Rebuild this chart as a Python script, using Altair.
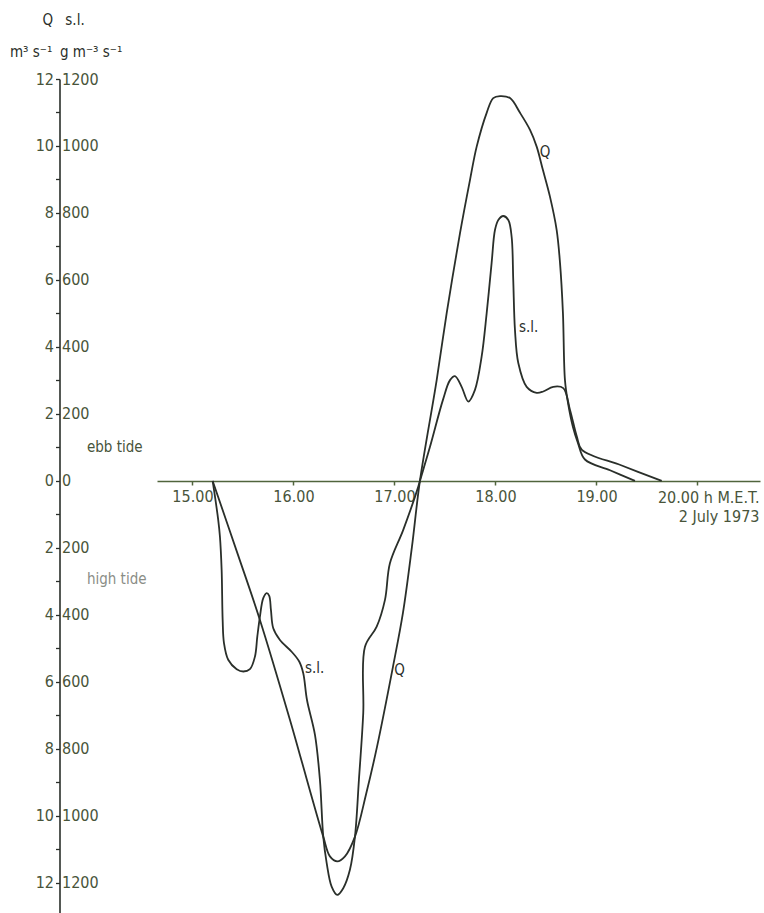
import altair as alt
import pandas as pd

# Discharge Q (m3 s-1) through the tidal inlet, 2 July 1973.
# Negative values: flood (high tide) flow, positive values: ebb flow.
q_time = [15.20, 15.45, 15.668, 15.965, 16.064, 16.295, 16.361, 16.434, 16.510,
          16.609, 16.720, 16.827, 16.985, 17.084, 17.173, 17.252, 17.418, 17.517,
          17.649, 17.748, 17.814, 17.913, 17.978, 18.045, 18.144, 18.243, 18.342,
          18.408, 18.470, 18.540, 18.606, 18.639, 18.668, 18.688, 18.718, 18.767,
          18.817, 18.886, 19.134, 19.381]
q_value = [0.0, -2.2, -4.15, -7.13, -8.18, -10.62, -11.21, -11.36, -11.21,
           -10.62, -9.34, -7.94, -5.55, -3.94, -1.97, 0.0, 3.01, 5.01,
           7.40, 8.99, 9.98, 10.99, 11.43, 11.49, 11.43, 10.99, 10.48,
           9.98, 9.28, 8.48, 7.49, 6.51, 5.01, 3.01, 2.33, 1.61,
           1.13, 0.64, 0.32, 0.0]

# Suspended load s.l. (g m-3 s-1)
sl_time = [15.20, 15.255, 15.272, 15.289, 15.299, 15.312, 15.354, 15.438, 15.503,
           15.569, 15.619, 15.642, 15.668, 15.701, 15.735, 15.760, 15.777, 15.800,
           15.866, 15.982, 16.057, 16.097, 16.134, 16.213, 16.262, 16.295, 16.329,
           16.378, 16.434, 16.493, 16.559, 16.609, 16.648, 16.691, 16.708, 16.824,
           16.906, 16.955, 17.087, 17.236, 17.252, 17.351, 17.480, 17.550, 17.599,
           17.665, 17.731, 17.797, 17.863, 17.913, 17.962, 17.995, 18.028, 18.077,
           18.127, 18.160, 18.176, 18.193, 18.226, 18.309, 18.408, 18.473, 18.572,
           18.671, 18.738, 18.807, 18.856, 19.250, 19.646]
sl_value = [0, -116, -166, -266, -415, -484, -534, -562, -569,
            -562, -524, -465, -405, -350, -335, -343, -385, -440,
            -475, -510, -539, -574, -654, -758, -893, -1062, -1141,
            -1211, -1236, -1216, -1161, -1062, -893, -693, -495, -435,
            -355, -246, -146, -17, 0, 101, 242, 301, 313,
            281, 237, 272, 371, 501, 651, 749, 779, 791,
            779, 729, 600, 451, 352, 281, 263, 267, 281,
            277, 212, 131, 93, 46, 0]

x_ticks = [15, 16, 17, 18, 19, 20]
q_ticks = list(range(-12, 13))
sl_ticks = list(range(-1200, 1201, 200))

T_DOMAIN = [14.649, 20.619]
Q_DOMAIN = [-12.9, 12.0]
SL_DOMAIN = [-1290, 1200]

W, H = 603, 834
AXIS_GAP = 97.5          # distance of the vertical axis left of the plot
ZERO_FROM_BOTTOM = 432   # height of the zero line above the plot bottom

FONT = "Liberation Sans Narrow, DejaVu Sans Condensed, Arial Narrow, sans-serif"
INK = "#2a2f2a"
LABEL = "#48543a"
OLIVE = "#50643c"

q_df = pd.DataFrame({"t": q_time, "q": q_value})
sl_df = pd.DataFrame({"t": sl_time, "sl": sl_value})

x_enc = alt.X(
    "t:Q",
    scale=alt.Scale(domain=T_DOMAIN, nice=False, zero=False),
    axis=alt.Axis(
        values=x_ticks, offset=-ZERO_FROM_BOTTOM, title=None, grid=False,
        labelExpr="datum.value == 20 ? '' : format(datum.value, '.2f')",
        labelFont=FONT, labelFontSize=16, labelColor=LABEL, labelPadding=3,
        labelOverlap=False, labelFlush=False,
        tickSize=4, tickColor=OLIVE, tickWidth=1.5,
        domainColor=OLIVE, domainWidth=1.6,
    ),
)

q_y = alt.Y(
    "q:Q",
    scale=alt.Scale(domain=Q_DOMAIN, nice=False, zero=False),
    axis=alt.Axis(
        orient="left", offset=AXIS_GAP, values=q_ticks, title=None, grid=False,
        labelExpr="datum.value % 2 == 0 ? format(abs(datum.value), 'd') : ''",
        labelFont=FONT, labelFontSize=16, labelColor=LABEL, labelPadding=2,
        labelOverlap=False, labelFlush=False, labelBaseline="middle",
        tickSize=4, tickColor=INK, tickWidth=1.3,
        domainColor=INK, domainWidth=1.6,
    ),
)

sl_y = alt.Y(
    "sl:Q",
    scale=alt.Scale(domain=SL_DOMAIN, nice=False, zero=False),
    axis=alt.Axis(
        orient="right", offset=-(W + AXIS_GAP), values=sl_ticks, title=None,
        grid=False, domain=False, ticks=False, tickSize=0,
        labelExpr="format(abs(datum.value), 'd')",
        labelFont=FONT, labelFontSize=16, labelColor=LABEL, labelPadding=2,
        labelOverlap=False, labelFlush=False, labelAlign="left",
        labelBaseline="middle",
    ),
)

q_line = alt.Chart(q_df).mark_line(
    interpolate="catmull-rom", color=INK, strokeWidth=1.8
).encode(x=x_enc, y=q_y)

sl_line = alt.Chart(sl_df).mark_line(
    interpolate="catmull-rom", color=INK, strokeWidth=1.8
).encode(x=x_enc, y=sl_y)


def note(rows, **mark):
    df = pd.DataFrame(rows, columns=["t", "q", "label"])
    style = dict(font=FONT, baseline="middle")
    style.update(mark)
    return alt.Chart(df).mark_text(**style).encode(x=x_enc, y=q_y, text="label:N")


notes = [
    note([(13.569, 13.76, "Q")], align="center", fontSize=15, color=INK),
    note([(13.837, 13.76, "s.l.")], align="center", fontSize=15, color=INK),
    note([(13.193, 12.80, "m³ s⁻¹"), (13.688, 12.80, "g m⁻³ s⁻¹")],
         align="left", fontSize=15, color=INK),
    note([(13.955, 1.01, "ebb tide")], align="left", fontSize=15, color=LABEL),
    note([(13.955, -2.93, "high tide")], align="left", fontSize=15, color="#8a8d86"),
    note([(18.49, 9.83, "Q"), (17.05, -5.64, "Q")],
         align="center", fontSize=15, color=INK),
    note([(18.233, 4.60, "s.l."), (16.114, -5.59, "s.l.")],
         align="left", fontSize=15, color=INK),
    note([(20.614, -0.51, "20.00 h M.E.T."), (20.614, -1.08, "2 July 1973")],
         align="right", fontSize=16, color=LABEL),
]

q_group = alt.layer(q_line, *notes)

chart = (
    alt.layer(q_group, sl_line)
    .resolve_scale(y="independent")
    .properties(
        width=W,
        height=H,
        autosize=alt.AutoSizeParams(type="none"),
        padding={"left": 157, "top": 79, "right": 4, "bottom": 0},
        background="white",
    )
    .configure_view(stroke=None)
)

chart.save("out.html", embed_options={"renderer": "svg", "actions": False})
